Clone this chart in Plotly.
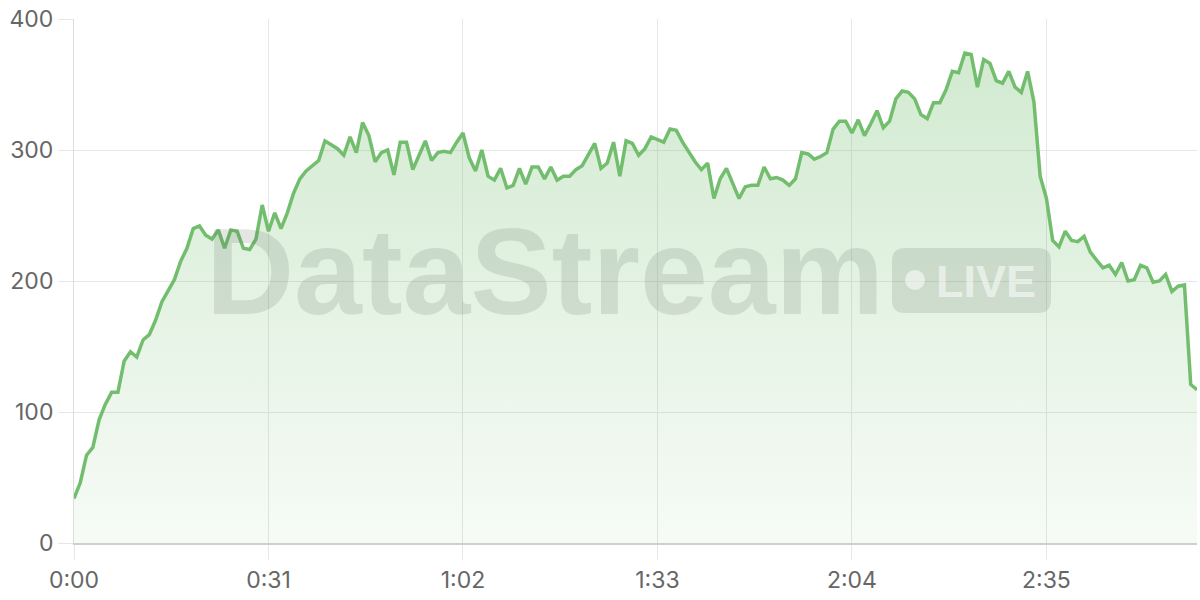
import plotly.graph_objects as go

# ---- data ----
seconds = list(range(180))
values = [
    34, 46, 67, 73, 94, 106, 115, 115, 139, 146,
    142, 155, 159, 170, 184, 193, 201, 215, 225, 240,
    242, 235, 232, 239, 225, 239, 238, 225, 224, 232,
    258, 238, 252, 240, 252, 267, 278, 284, 288, 292,
    307, 304, 301, 296, 310, 298, 321, 311, 291, 298,
    300, 281, 306, 306, 285, 296, 307, 292, 298, 299,
    298, 306, 313, 294, 284, 300, 280, 277, 286, 271,
    273, 286, 274, 287, 287, 278, 287, 277, 280, 280,
    285, 288, 296, 305, 286, 290, 306, 280, 307, 305,
    296, 301, 310, 308, 306, 316, 315, 306, 298, 291,
    285, 290, 263, 278, 286, 275, 263, 272, 273, 273,
    287, 278, 279, 277, 273, 278, 298, 297, 293, 295,
    298, 316, 322, 322, 313, 323, 311, 320, 330, 317,
    322, 339, 345, 344, 339, 327, 324, 336, 336, 346,
    360, 359, 374, 373, 348, 369, 366, 353, 351, 360,
    348, 344, 360, 337, 280, 263, 231, 226, 238, 231,
    230, 234, 222, 216, 210, 212, 205, 214, 200, 201,
    212, 210, 199, 200, 205, 192, 196, 197, 121, 117,
]
x_tick_vals = [0, 31, 62, 93, 124, 155]
x_tick_text = ["0:00", "0:31", "1:02", "1:33", "2:04", "2:35"]
y_tick_vals = [0, 100, 200, 300, 400]
watermark_text = "DataStream"
badge_text = "LIVE"

# ---- layout geometry (pixels) ----
W, H = 1200, 600
L, R, T, B = 74, 1197, 19, 543


def px(x):
    return (x - L) / (R - L)


def py(y):
    return (B - y) / (B - T)


LINE = "rgb(115,190,110)"

fig = go.Figure()
fig.add_trace(go.Scatter(
    x=seconds, y=values, mode="lines",
    line=dict(color=LINE, width=3.5),
    fill="tozeroy",
    fillgradient=dict(
        type="vertical", start=0, stop=400,
        colorscale=[[0, "rgba(115,190,110,0.06)"], [1, "rgba(115,190,110,0.34)"]],
    ),
    hoverinfo="skip",
    showlegend=False,
    cliponaxis=False,
))

# badge rounded rectangle
bx0, bx1, by0, by1, r = 892, 1051, 248, 313, 13
path = (
    f"M {px(bx0 + r)},{py(by0)} L {px(bx1 - r)},{py(by0)} "
    f"Q {px(bx1)},{py(by0)} {px(bx1)},{py(by0 + r)} "
    f"L {px(bx1)},{py(by1 - r)} Q {px(bx1)},{py(by1)} {px(bx1 - r)},{py(by1)} "
    f"L {px(bx0 + r)},{py(by1)} Q {px(bx0)},{py(by1)} {px(bx0)},{py(by1 - r)} "
    f"L {px(bx0)},{py(by0 + r)} Q {px(bx0)},{py(by0)} {px(bx0 + r)},{py(by0)} Z"
)
shapes = [
    dict(type="path", path=path, xref="paper", yref="paper",
         fillcolor="rgba(90,100,90,0.16)", line=dict(width=0), layer="above"),
    dict(type="circle", xref="paper", yref="paper",
         x0=px(905), x1=px(925), y0=py(290), y1=py(270),
         fillcolor="rgba(255,255,255,0.55)", line=dict(width=0), layer="above"),
]

annotations = [
    dict(text=watermark_text, xref="paper", yref="paper",
         x=px(545), y=py(272), xanchor="center", yanchor="middle",
         showarrow=False,
         font=dict(family="Liberation Sans", size=122, weight="bold",
                   color="rgba(90,100,90,0.16)")),
    dict(text=badge_text, xref="paper", yref="paper",
         x=px(986), y=py(281), xanchor="center", yanchor="middle",
         showarrow=False,
         font=dict(family="Liberation Sans", size=45, weight="bold",
                   color="rgba(255,255,255,0.55)")),
]

GRID = "#e6e6e6"
TICKFONT = dict(family="Inter", size=23, color="#666666")
fig.update_layout(
    width=W, height=H,
    margin=dict(l=L, r=W - R, t=T, b=H - B, pad=0, autoexpand=False),
    plot_bgcolor="white", paper_bgcolor="white",
    shapes=shapes, annotations=annotations,
    font=dict(family="Inter", size=23, color="#666666"),
    xaxis=dict(
        range=[0, 179], tickvals=x_tick_vals, ticktext=x_tick_text,
        showgrid=True, gridcolor=GRID, gridwidth=1,
        zeroline=False, showline=True, linecolor="#cfcfcf", linewidth=2,
        ticks="outside", ticklen=15, tickcolor=GRID, tickwidth=1,
        tickfont=TICKFONT, ticklabeloverflow="allow", automargin=False,
    ),
    yaxis=dict(
        range=[0, 400], tickvals=y_tick_vals,
        showgrid=True, gridcolor=GRID, gridwidth=1,
        zeroline=False, showline=True, linecolor="#dddddd", linewidth=1,
        ticks="outside", ticklen=15, tickcolor=GRID, tickwidth=1,
        tickfont=TICKFONT, ticklabeloverflow="allow", automargin=False,
    ),
)

fig.write_html(
    "out.html",
    config={"displayModeBar": False},
    post_script="document.body.style.margin='0';document.body.style.overflow='hidden';",
)
